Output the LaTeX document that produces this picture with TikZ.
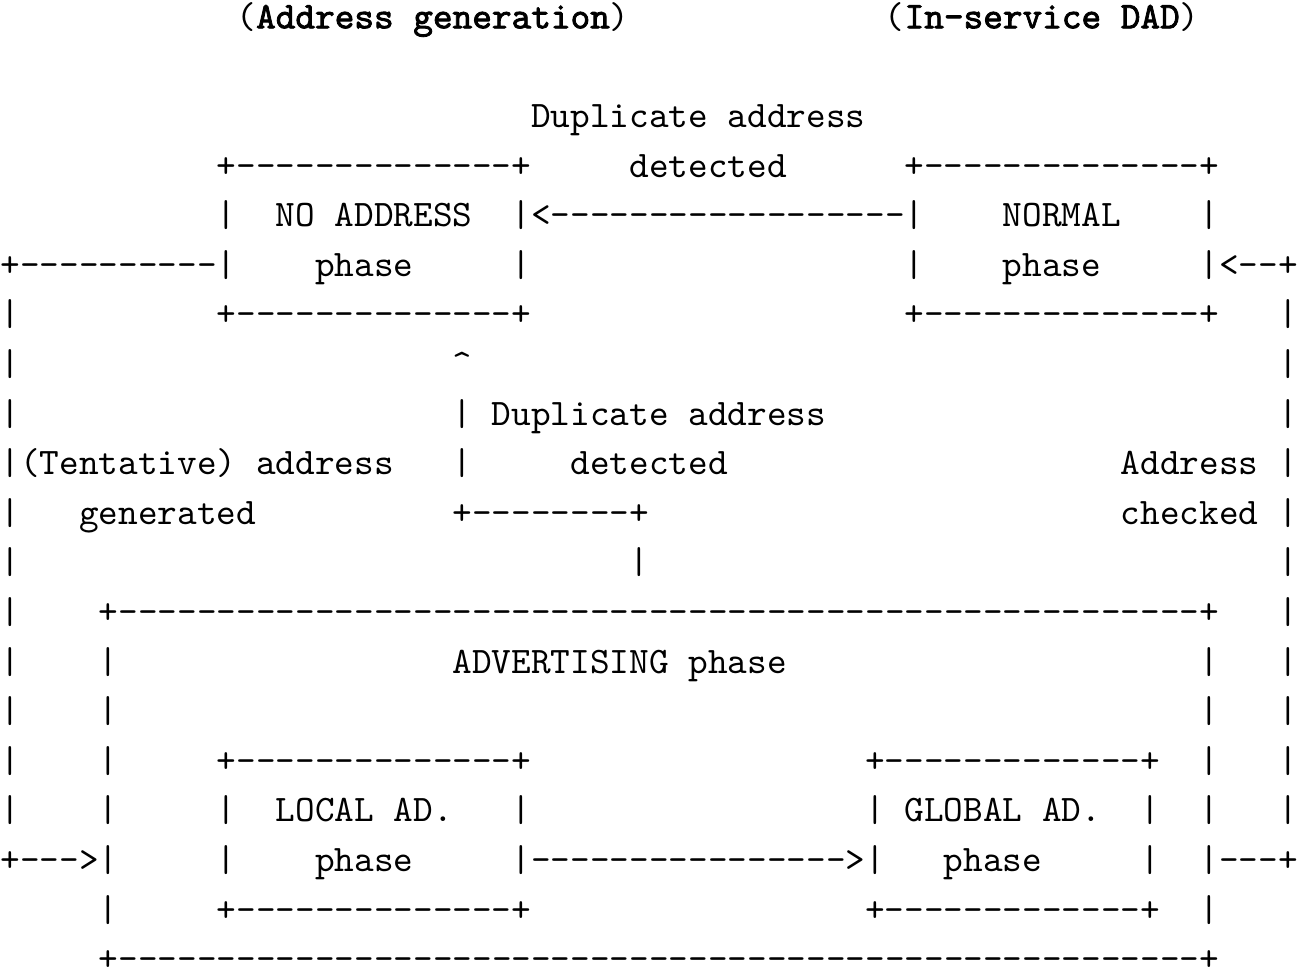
\documentclass[tikz,border=0pt]{standalone}
\usepackage{fontspec}
\setmonofont{lmmono10-regular.otf}
\newfontfamily\boldtt{lmmono10-regular.otf}[FakeBold=2.2]
\usepackage{tikz}
\frenchspacing

\begin{document}
\begin{tikzpicture}
	[x=5.895pt, y=14.88pt, txt/.style = {anchor=base west, inner sep=0pt, font=\fontsize{11.23pt}{13pt}\selectfont\ttfamily}]
	\useasboundingbox (0,0.57) rectangle (66,-18.926);
	% titles
	\node[txt] (gen) at (12,0) {({\boldtt Address generation})};
	\node[txt] (dad) at (45,0) {({\boldtt In-service DAD})};
	% NO ADDRESS and NORMAL phases
	\node[txt] (dup1) at (27,-2) {Duplicate address};
	\node[txt] (noaddr-t) at (11,-3) {+--------------+};
	\node[txt] (det1) at (32,-3) {detected};
	\node[txt] (normal-t) at (46,-3) {+--------------+};
	\node[txt] (noaddr-l) at (11,-4) {|};
	\node[txt] (noaddr) at (14,-4) {NO ADDRESS};
	\node[txt] (back) at (26,-4) {|<------------------|};
	\node[txt] (normal) at (51,-4) {NORMAL};
	\node[txt] (normal-r) at (61,-4) {|};
	\node[txt] (gen-in) at (0,-5) {+----------|};
	\node[txt] (noaddr-p) at (16,-5) {phase};
	\node[txt] (noaddr-r) at (26,-5) {|};
	\node[txt] (normal-l) at (46,-5) {|};
	\node[txt] (normal-p) at (51,-5) {phase};
	\node[txt] (chk-in) at (61,-5) {|<--+};
	\node[txt] (l6) at (0,-6) {|};
	\node[txt] (noaddr-b) at (11,-6) {+--------------+};
	\node[txt] (normal-b) at (46,-6) {+--------------+};
	\node[txt] (r6) at (65,-6) {|};
	% duplicate address from advertising
	\node[txt] (l7) at (0,-7) {|};
	\node[txt] (up) at (23,-7) {\textasciicircum};
	\node[txt] (r7) at (65,-7) {|};
	\node[txt] (l8) at (0,-8) {|};
	\node[txt] (dup2) at (23,-8) {| Duplicate address};
	\node[txt] (r8) at (65,-8) {|};
	\node[txt] (tent) at (0,-9) {|(Tentative) address};
	\node[txt] (up9) at (23,-9) {|};
	\node[txt] (det2) at (29,-9) {detected};
	\node[txt] (addr) at (57,-9) {Address |};
	\node[txt] (l10) at (0,-10) {|};
	\node[txt] (gend) at (4,-10) {generated};
	\node[txt] (turn) at (23,-10) {+--------+};
	\node[txt] (chkd) at (57,-10) {checked |};
	\node[txt] (l11) at (0,-11) {|};
	\node[txt] (stub) at (32,-11) {|};
	\node[txt] (r11) at (65,-11) {|};
	% ADVERTISING phase
	\node[txt] (l12) at (0,-12) {|};
	\node[txt] (adv-t) at (5,-12) {+-------------------------------------------------------+};
	\node[txt] (r12) at (65,-12) {|};
	\node[txt] (l13) at (0,-13) {|};
	\node[txt] (adv-l13) at (5,-13) {|};
	\node[txt] (adv) at (23,-13) {ADVERTISING phase};
	\node[txt] (adv-r13) at (61,-13) {|};
	\node[txt] (r13) at (65,-13) {|};
	\node[txt] (l14) at (0,-14) {|};
	\node[txt] (adv-l14) at (5,-14) {|};
	\node[txt] (adv-r14) at (61,-14) {|};
	\node[txt] (r14) at (65,-14) {|};
	\node[txt] (l15) at (0,-15) {|};
	\node[txt] (adv-l15) at (5,-15) {|};
	\node[txt] (local-t) at (11,-15) {+--------------+};
	\node[txt] (global-t) at (44,-15) {+-------------+};
	\node[txt] (adv-r15) at (61,-15) {|};
	\node[txt] (r15) at (65,-15) {|};
	\node[txt] (l16) at (0,-16) {|};
	\node[txt] (adv-l16) at (5,-16) {|};
	\node[txt] (local-l) at (11,-16) {|};
	\node[txt] (local) at (14,-16) {LOCAL AD.};
	\node[txt] (local-r) at (26,-16) {|};
	\node[txt] (global) at (44,-16) {| GLOBAL AD.};
	\node[txt] (global-r) at (58,-16) {|};
	\node[txt] (adv-r16) at (61,-16) {|};
	\node[txt] (r16) at (65,-16) {|};
	\node[txt] (gen-out) at (0,-17) {+--->|};
	\node[txt] (local-l17) at (11,-17) {|};
	\node[txt] (local-p) at (16,-17) {phase};
	\node[txt] (fwd) at (26,-17) {|---------------->|};
	\node[txt] (global-p) at (48,-17) {phase};
	\node[txt] (global-r17) at (58,-17) {|};
	\node[txt] (chk-out) at (61,-17) {|---+};
	\node[txt] (adv-l18) at (5,-18) {|};
	\node[txt] (local-b) at (11,-18) {+--------------+};
	\node[txt] (global-b) at (44,-18) {+-------------+};
	\node[txt] (adv-r18) at (61,-18) {|};
	\node[txt] (adv-b) at (5,-19) {+-------------------------------------------------------+};
\end{tikzpicture}
\end{document}
